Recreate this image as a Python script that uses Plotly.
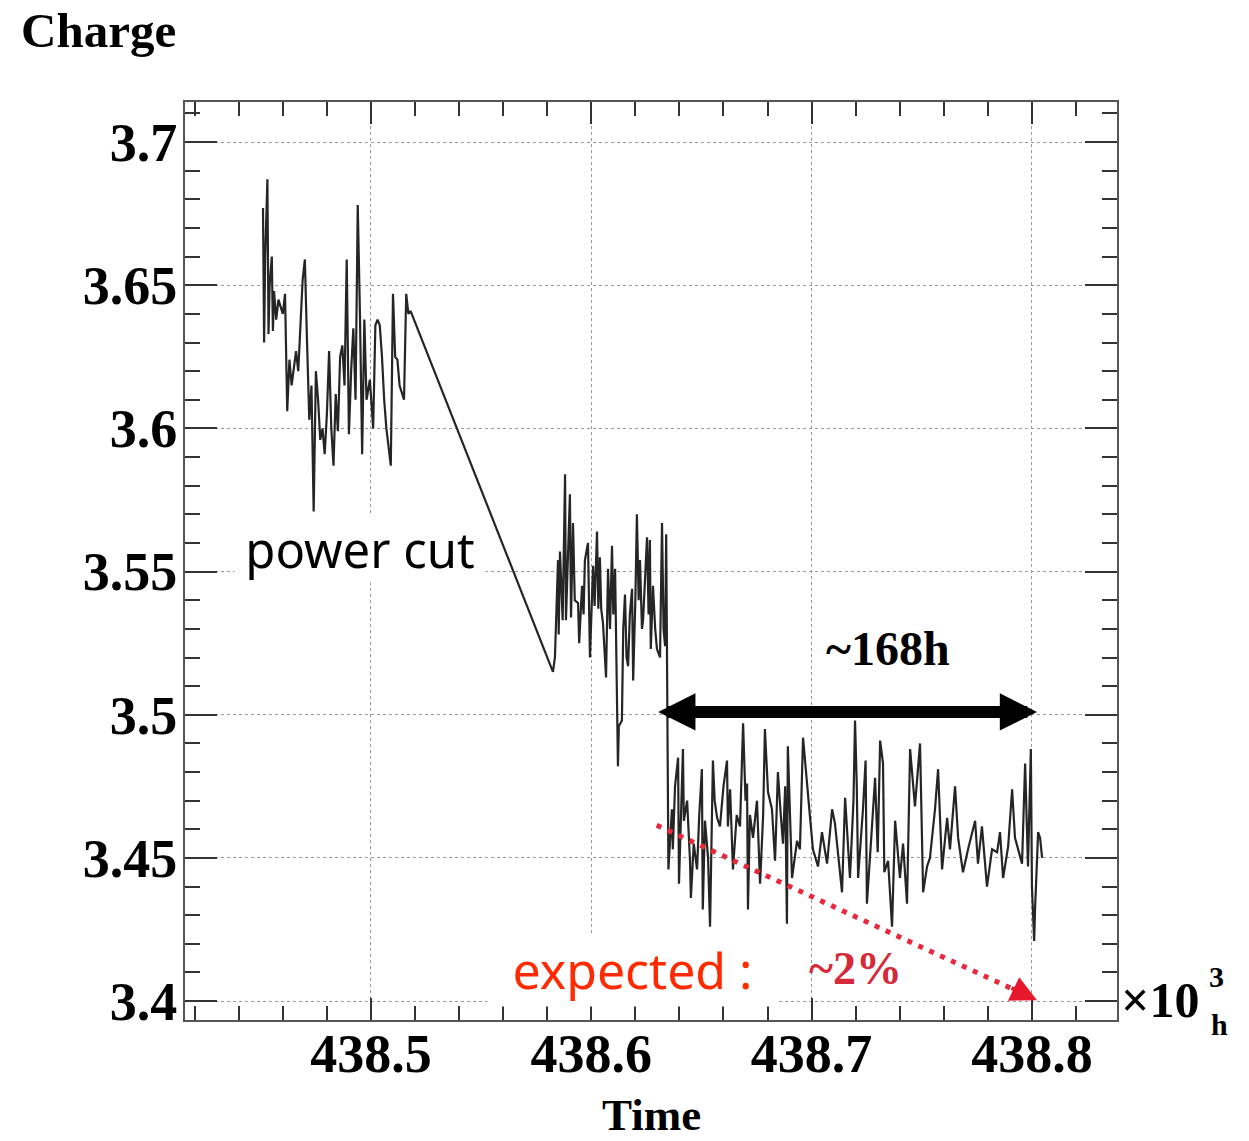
import plotly.graph_objects as go

# ---- data (time in 10^3 h, charge) ----
time_pre = [438.451, 438.4515, 438.452, 438.453, 438.4535, 438.454, 438.455, 438.4555, 438.456, 438.457,
            438.458, 438.460, 438.461, 438.462, 438.463, 438.464, 438.466, 438.467, 438.469, 438.470,
            438.471, 438.472, 438.473, 438.474, 438.475, 438.476, 438.477, 438.478, 438.479, 438.480,
            438.481, 438.482, 438.483, 438.484, 438.485, 438.486, 438.487, 438.488, 438.489, 438.490,
            438.491, 438.492, 438.493, 438.494, 438.495, 438.496, 438.497, 438.498, 438.4995, 438.501,
            438.502, 438.503, 438.504, 438.505, 438.506, 438.507, 438.509, 438.510, 438.511, 438.512,
            438.513, 438.515, 438.516, 438.517, 438.518]
charge_pre = [3.677, 3.630, 3.660, 3.687, 3.633, 3.650, 3.660, 3.634, 3.648, 3.638,
              3.645, 3.640, 3.647, 3.606, 3.624, 3.615, 3.627, 3.620, 3.652, 3.659,
              3.630, 3.603, 3.615, 3.571, 3.620, 3.610, 3.596, 3.600, 3.591, 3.605,
              3.627, 3.600, 3.587, 3.612, 3.599, 3.625, 3.629, 3.615, 3.659, 3.598,
              3.620, 3.635, 3.610, 3.678, 3.640, 3.591, 3.638, 3.610, 3.617, 3.600,
              3.636, 3.638, 3.636, 3.625, 3.610, 3.600, 3.587, 3.647, 3.625, 3.624,
              3.615, 3.610, 3.647, 3.640, 3.641]

time_mid = [438.5826, 438.5835, 438.5849, 438.5852, 438.5858, 438.5870, 438.5881, 438.5885, 438.5895, 438.5903,
            438.5908, 438.5917, 438.5925, 438.5940, 438.5945, 438.5958, 438.5965, 438.5971, 438.5985, 438.5988,
            438.5994, 438.6008, 438.6015, 438.6026, 438.6032, 438.6039, 438.6045, 438.6053, 438.6067, 438.6076,
            438.6085, 438.6094, 438.6100, 438.6108, 438.6115, 438.6121, 438.6125, 438.6139, 438.6145, 438.6153,
            438.6160, 438.6167, 438.6175, 438.6185, 438.6190, 438.6200, 438.6207, 438.6215, 438.6221, 438.6230,
            438.6235, 438.6245, 438.6253, 438.6260, 438.6266, 438.6270, 438.6280, 438.6290, 438.6298, 438.6312,
            438.6321, 438.6328, 438.6335, 438.6340, 438.6344, 438.6348]
charge_mid = [3.515, 3.520, 3.554, 3.528, 3.557, 3.533, 3.584, 3.533, 3.560, 3.577,
              3.534, 3.567, 3.540, 3.539, 3.525, 3.545, 3.535, 3.554, 3.560, 3.540,
              3.520, 3.552, 3.538, 3.564, 3.537, 3.555, 3.537, 3.532, 3.513, 3.551,
              3.530, 3.559, 3.535, 3.551, 3.508, 3.482, 3.496, 3.498, 3.530, 3.542,
              3.520, 3.517, 3.535, 3.544, 3.512, 3.540, 3.570, 3.540, 3.554, 3.530,
              3.533, 3.550, 3.562, 3.535, 3.561, 3.523, 3.545, 3.530, 3.523, 3.520,
              3.567, 3.530, 3.524, 3.563, 3.519, 3.487]

time_post = [438.6350, 438.6366, 438.6370, 438.6380, 438.6394, 438.6398, 438.6405, 438.6416, 438.6420, 438.6435,
             438.6448, 438.6452, 438.6465, 438.6480, 438.6490, 438.6502, 438.6506, 438.6516, 438.6530, 438.6539,
             438.6545, 438.6552, 438.6560, 438.6571, 438.6584, 438.6600, 438.6616, 438.6620, 438.6630, 438.6643,
             438.6660, 438.6675, 438.6689, 438.6700, 438.6707, 438.6711, 438.6720, 438.6734, 438.6752, 438.6766,
             438.6780, 438.6788, 438.6802, 438.6820, 438.6834, 438.6847, 438.6860, 438.6870, 438.6880, 438.6888,
             438.6892, 438.6911, 438.6934, 438.6947, 438.6961, 438.6979, 438.6993, 438.7006, 438.7029, 438.7047,
             438.7070, 438.7093, 438.7106, 438.7138, 438.7152, 438.7174, 438.7190, 438.7197, 438.7205, 438.7211,
             438.7233, 438.7245, 438.7251, 438.7274, 438.7288, 438.7300, 438.7311, 438.7324, 438.7330, 438.7347,
             438.7365, 438.7379, 438.7401, 438.7415, 438.7433, 438.7447, 438.7469, 438.7492, 438.7506, 438.7524,
             438.7537, 438.7560, 438.7574, 438.7592, 438.7615, 438.7628, 438.7651, 438.7665, 438.7687, 438.7710,
             438.7742, 438.7755, 438.7773, 438.7796, 438.7819, 438.7842, 438.7855, 438.7869, 438.7892, 438.7910,
             438.7923, 438.7955, 438.7969, 438.7982, 438.7995, 438.8000, 438.8010, 438.8014, 438.8028, 438.8037,
             438.8046]
charge_post = [3.446, 3.467, 3.453, 3.475, 3.485, 3.441, 3.460, 3.488, 3.463, 3.470,
               3.449, 3.436, 3.455, 3.446, 3.465, 3.481, 3.432, 3.463, 3.450, 3.426,
               3.453, 3.484, 3.470, 3.464, 3.461, 3.475, 3.484, 3.461, 3.474, 3.446,
               3.465, 3.461, 3.497, 3.470, 3.476, 3.432, 3.465, 3.457, 3.470, 3.441,
               3.465, 3.495, 3.473, 3.467, 3.449, 3.480, 3.465, 3.455, 3.475, 3.427,
               3.489, 3.443, 3.456, 3.453, 3.492, 3.475, 3.464, 3.453, 3.447, 3.459,
               3.448, 3.467, 3.462, 3.438, 3.471, 3.443, 3.470, 3.498, 3.475, 3.443,
               3.467, 3.484, 3.434, 3.461, 3.478, 3.452, 3.491, 3.483, 3.445, 3.449,
               3.426, 3.463, 3.443, 3.455, 3.434, 3.488, 3.468, 3.490, 3.438, 3.447,
               3.450, 3.467, 3.481, 3.446, 3.464, 3.453, 3.475, 3.457, 3.445, 3.453,
               3.463, 3.448, 3.461, 3.440, 3.453, 3.452, 3.459, 3.443, 3.454, 3.474,
               3.457, 3.448, 3.483, 3.447, 3.488, 3.440, 3.421, 3.432, 3.459, 3.457,
               3.450]

x_tickvals = [438.5, 438.6, 438.7, 438.8]
x_ticktext = ["438.5", "438.6", "438.7", "438.8"]
y_tickvals = [3.4, 3.45, 3.5, 3.55, 3.6, 3.65, 3.7]
y_ticktext = ["3.4", "3.45", "3.5", "3.55", "3.6", "3.65", "3.7"]

# annotation anchors (data units)
span_start, span_end, span_level = 438.6297, 438.8023, 3.501
expect_start = (438.6297, 3.4614)
expect_end = (438.8023, 3.4003)

time_all = time_pre + time_mid + time_post
charge_all = charge_pre + charge_mid + charge_post

SERIF = "Liberation Serif"
SANS = "Noto Sans"

fig = go.Figure()
fig.add_trace(go.Scatter(x=time_all, y=charge_all, mode="lines",
                         line=dict(color="#252525", width=2.2), showlegend=False))
# expected trend (dotted red)
fig.add_trace(go.Scatter(x=[expect_start[0], expect_end[0]], y=[expect_start[1], expect_end[1]],
                         mode="lines", line=dict(color="#e8283c", width=5, dash="5px,7px"),
                         showlegend=False))

axis_common = dict(showline=True, linecolor="#555555", linewidth=2, mirror="allticks",
                   ticks="inside", tickcolor="#333333", tickwidth=2,
                   showgrid=True, gridcolor="#9a9a9a", griddash="dot", gridwidth=1,
                   zeroline=False,
                   tickfont=dict(family=SERIF, size=54, color="black", weight="bold"))

fig.update_xaxes(range=[438.4156, 438.8386], tickmode="array", tickvals=x_tickvals,
                 ticktext=x_ticktext, ticklen=22, ticklabelstandoff=-15,
                 minor=dict(dtick=0.02, tick0=438.5, ticklen=14, tickcolor="#333333",
                            tickwidth=2, ticks="inside", showgrid=False),
                 **axis_common)
fig.update_yaxes(range=[3.3934, 3.714], tickmode="array", tickvals=y_tickvals,
                 ticktext=y_ticktext, ticklen=32, ticklabelstandoff=-5,
                 minor=dict(dtick=0.01, tick0=3.4, ticklen=15, tickcolor="#333333",
                            tickwidth=2, ticks="inside", showgrid=False),
                 **axis_common)

ann = []
# double-headed span arrow
ann.append(dict(x=span_end, y=span_level, ax=span_start, ay=span_level,
                xref="x", yref="y", axref="x", ayref="y", text="", showarrow=True,
                arrowhead=2, startarrowhead=2, arrowside="end+start",
                arrowwidth=12, arrowsize=0.62, startarrowsize=0.62, arrowcolor="black"))
ann.append(dict(x=438.7347, y=3.5233, xref="x", yref="y", text="~168h", showarrow=False,
                font=dict(family=SERIF, size=48, color="black", weight="bold")))
# red arrow head
ann.append(dict(x=expect_end[0], y=expect_end[1], xref="x", yref="y", ax=-27, ay=-13,
                text="", showarrow=True, arrowhead=2, arrowwidth=4, arrowsize=1.3,
                arrowcolor="#e8182c"))
ann.append(dict(x=438.7197, y=3.4115, xref="x", yref="y", text="~2%", showarrow=False,
                font=dict(family=SERIF, size=46, color="#d42a3a", weight="bold")))
ann.append(dict(x=438.6185, y=3.4110, xref="x", yref="y", text="expected :", showarrow=False,
                bgcolor="white", borderpad=2, width=285, align="center",
                font=dict(family=SANS, size=50, color="#ff2a00")))
ann.append(dict(x=438.4950, y=3.5578, xref="x", yref="y", text="power cut", showarrow=False,
                bgcolor="white", borderpad=0, width=250, align="center",
                font=dict(family=SANS, size=49, color="black")))
# axis titles
ann.append(dict(x=-0.178, y=1.0784, xref="paper", yref="paper", xanchor="left", yanchor="middle",
                text="Charge", showarrow=False,
                font=dict(family=SERIF, size=49, color="black", weight="bold")))
ann.append(dict(x=0.5, y=-0.104, xref="paper", yref="paper", xanchor="center", yanchor="middle",
                text="Time", showarrow=False,
                font=dict(family=SERIF, size=45, color="black", weight="bold")))
ann.append(dict(x=1.002, y=0.022, xref="paper", yref="paper", xanchor="left", yanchor="middle",
                text="×10", showarrow=False,
                font=dict(family=SERIF, size=50, color="black", weight="bold")))
ann.append(dict(x=1.097, y=0.047, xref="paper", yref="paper", xanchor="left", yanchor="middle",
                text="3", showarrow=False,
                font=dict(family=SERIF, size=30, color="black", weight="bold")))
ann.append(dict(x=1.099, y=-0.005, xref="paper", yref="paper", xanchor="left", yanchor="middle",
                text="h", showarrow=False,
                font=dict(family=SERIF, size=30, color="black", weight="bold")))

fig.update_layout(width=1249, height=1141, margin=dict(l=185, r=132, t=102, b=121),
                  plot_bgcolor="white", paper_bgcolor="white", annotations=ann,
                  showlegend=False)

fig.write_html("out.html", config={"displayModeBar": False},
               post_script="document.body.style.margin='0';")
